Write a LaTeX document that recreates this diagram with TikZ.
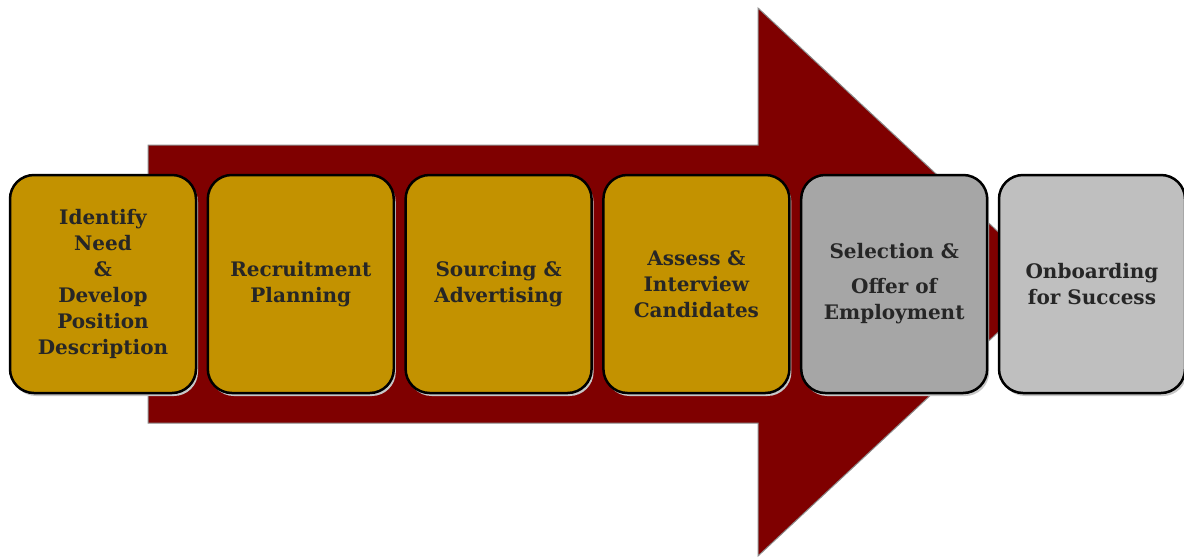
\documentclass[tikz,border=0pt]{standalone}
\usepackage{fontspec}
\setmainfont{DejaVu Serif}
\usepackage{tikz}
\usetikzlibrary{positioning}
\definecolor{arrowcolor}{HTML}{7F0000}
\definecolor{goldcolor}{HTML}{C39200}
\definecolor{darkgraycolor}{HTML}{A6A6A6}
\definecolor{lightgraycolor}{HTML}{BFBFBF}
\tikzset{stage/.style={draw=black,line width=2.5pt,rounded corners=24pt,minimum width=186pt,minimum height=218pt,inner sep=4pt,align=center,text=black!85,font=\bfseries\fontsize{20}{26}\selectfont,preaction={fill=black!22,transform canvas={shift={(2pt,-3pt)}}}},gold stage/.style={stage,fill=goldcolor},selection stage/.style={stage,fill=darkgraycolor},onboard stage/.style={stage,fill=lightgraycolor},big arrow/.style={fill=arrowcolor,draw=black!45,line width=1pt}}

\begin{document}
\begin{tikzpicture}[x=1pt,y=-1pt]
 \useasboundingbox (0,0) rectangle (1184,558);

 % the big arrow behind the stages
 \draw[big arrow] (148,145) -- (758,145) -- (758,8) -- (1052,282) -- (758,556) -- (758,423) -- (148,423) -- cycle;

 \node[gold stage] (identify) at (103,284) {Identify\\Need\\\&\\Develop\\Position\\Description};
 \node[gold stage,right=9.3pt of identify] (planning) {Recruitment\\Planning};
 \node[gold stage,right=9.3pt of planning] (sourcing) {Sourcing \&\\Advertising};
 \node[gold stage,right=9.3pt of sourcing] (assess) {Assess \&\\Interview\\Candidates};
 \node[selection stage,right=9.3pt of assess] (selection) {Selection \&\\[9pt]Offer of\\Employment};
 \node[onboard stage,right=9.3pt of selection] (onboarding) {Onboarding\\for Success};
\end{tikzpicture}
\end{document}
